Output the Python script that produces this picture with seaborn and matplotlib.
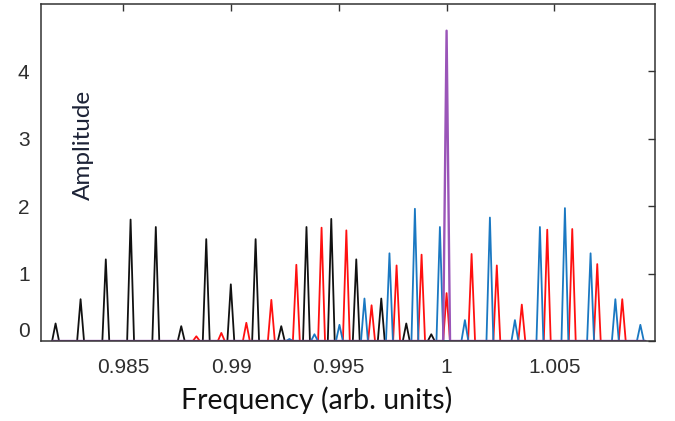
import numpy as np
import pandas as pd
import matplotlib
matplotlib.use("Agg")
import matplotlib.pyplot as plt
import matplotlib.transforms as mtransforms
import seaborn as sns

# Spectral line positions (frequency, arb. units) and amplitudes for each comb
black_freq = [0.98186, 0.98302, 0.98419, 0.98534, 0.98651, 0.98769, 0.98885, 0.98999,
              0.99114, 0.99233, 0.99350, 0.99465, 0.99581, 0.99697, 0.99813, 0.99929]
black_amp = [0.26, 0.62, 1.21, 1.80, 1.69, 0.22, 1.51, 0.84,
             1.51, 0.22, 1.69, 1.81, 1.21, 0.63, 0.26, 0.10]

red_freq = [0.98839, 0.98955, 0.99071, 0.99187, 0.99303, 0.99420, 0.99535, 0.99652, 0.99768,
            0.99884, 1.00000, 1.00116, 1.00233, 1.00349, 1.00467, 1.00583, 1.00699, 1.00815]
red_amp = [0.07, 0.12, 0.27, 0.61, 1.13, 1.68, 1.64, 0.53, 1.12,
           1.28, 0.71, 1.29, 1.12, 0.54, 1.65, 1.66, 1.14, 0.62]

blue_freq = [0.99271, 0.99387, 0.99503, 0.99619, 0.99735, 0.99853, 0.99969, 1.00085,
             1.00201, 1.00317, 1.00433, 1.00549, 1.00668, 1.00783, 1.00899]
blue_amp = [0.03, 0.10, 0.24, 0.63, 1.30, 1.96, 1.69, 0.31,
            1.83, 0.31, 1.69, 1.97, 1.30, 0.62, 0.24]

purple_freq = [1.00000]
purple_amp = [4.60]
purple_span = [0.98170, 1.00923]   # extent of the carrier trace along the baseline

x_ticks = [0.985, 0.99, 0.995, 1.0, 1.005]
x_tick_labels = ["0.985", "0.99", "0.995", "1", "1.005"]
y_ticks = [0, 1, 2, 3, 4]

HALF_WIDTH = 0.00016  # half base width of each drawn line


def comb_frame(freqs, amps, span=None):
    """Trace of narrow triangular lines joined along the zero baseline."""
    xs, ys = [], []
    if span is not None:
        xs.append(span[0]); ys.append(0.0)
    for f, a in zip(freqs, amps):
        xs += [f - HALF_WIDTH, f, f + HALF_WIDTH]
        ys += [0.0, a, 0.0]
    if span is not None:
        xs.append(span[1]); ys.append(0.0)
    return pd.DataFrame({"freq": xs, "amp": ys})


sns.set_theme(style="white")
plt.rcParams["font.family"] = ["Liberation Sans", "DejaVu Sans"]

fig = plt.figure(figsize=(6.75, 4.21), dpi=100)
ax = fig.add_axes([0.0603, 0.190, 0.9101, 0.8012])

series = [
    (black_freq, black_amp, None, "#111111", 1.3),
    (red_freq, red_amp, None, "#ff1010", 1.3),
    (blue_freq, blue_amp, None, "#1a78c2", 1.3),
    (purple_freq, purple_amp, purple_span, "#9a55b8", 1.7),
]
for freqs, amps, span, color, lw in series:
    df = comb_frame(freqs, amps, span)
    sns.lineplot(data=df, x="freq", y="amp", ax=ax, sort=False, estimator=None,
                 color=color, linewidth=lw)

ax.set_xlim(0.98117, 1.00967)
ax.set_ylim(0, 5)
ax.set_xticks(x_ticks)
ax.set_xticklabels(x_tick_labels)
ax.set_yticks(y_ticks)
ax.set_xlabel("")
ax.set_ylabel("")

for side in ["top", "bottom", "left", "right"]:
    ax.spines[side].set_visible(True)
    ax.spines[side].set_color("#333333")
    ax.spines[side].set_linewidth(1.1)

ax.tick_params(axis="both", direction="in", length=5, width=1.0, color="#333333",
               top=True, right=True, labelsize=15, labelcolor="#2e2e2e")
ax.tick_params(axis="x", pad=12)
ax.tick_params(axis="y", pad=8)

# lift the zero label clear of the bottom spine
zero_label = ax.get_yticklabels()[0]
zero_label.set_transform(zero_label.get_transform() +
                         mtransforms.ScaledTranslation(0, 8 / 72, fig.dpi_scale_trans))

ax.text(0.069, 0.58, "Amplitude", transform=ax.transAxes, rotation=90,
        ha="center", va="center", fontsize=17.5, color="#1c2236", family=["Lato", "DejaVu Sans"])

fig.text(316.5 / 675, 1 - 400 / 421, "Frequency (arb. units)", ha="center", va="center",
         fontsize=20.5, color="#111111", family=["Lato", "DejaVu Sans"])

fig.savefig("out.png", dpi=100)
